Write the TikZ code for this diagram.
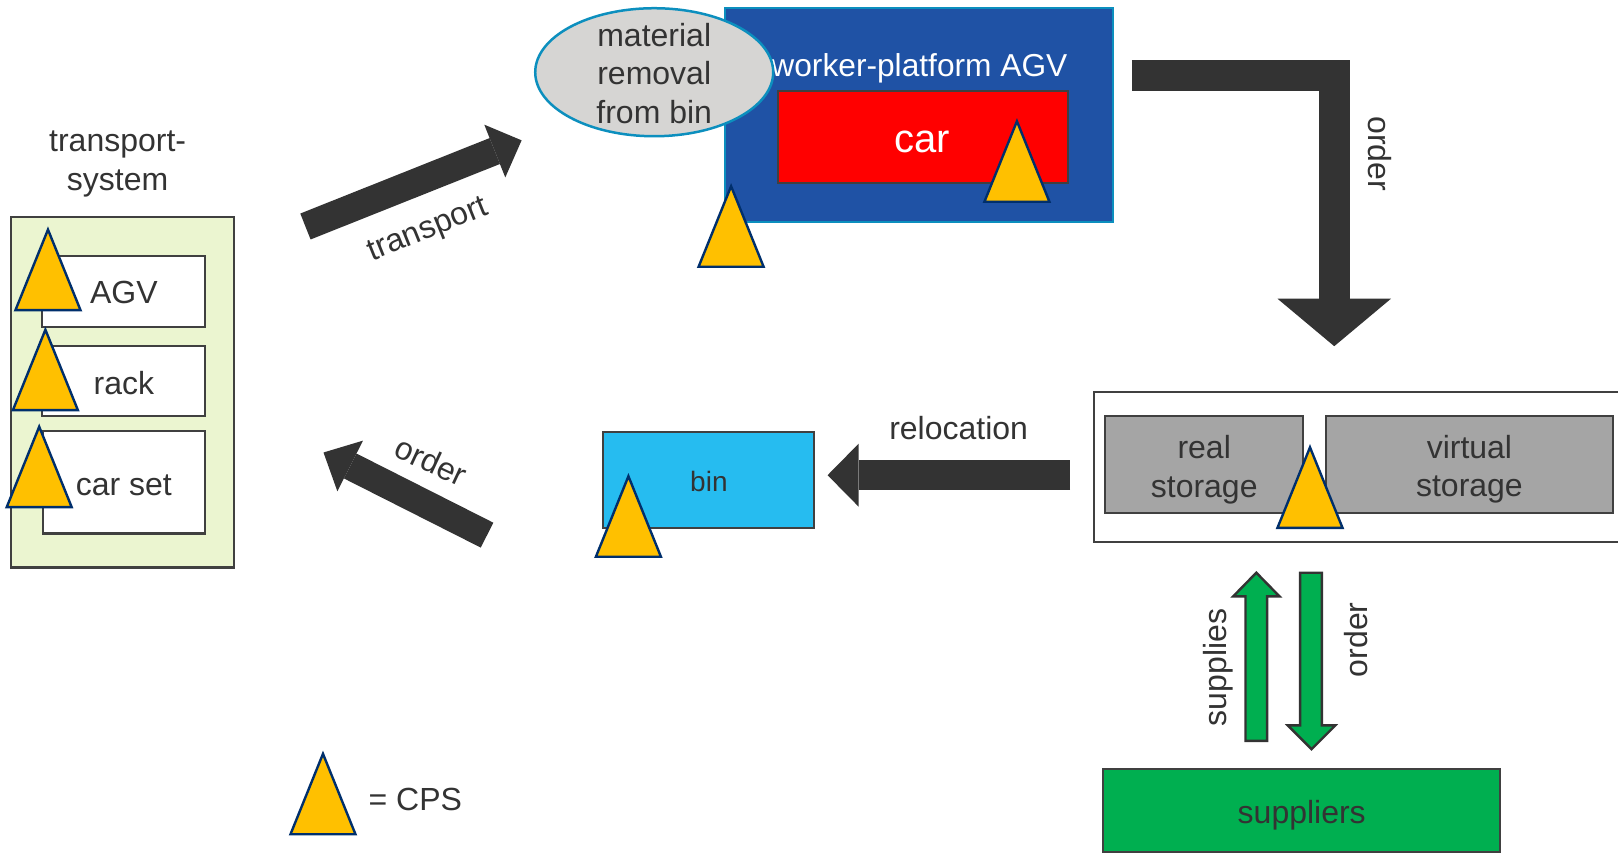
\documentclass[tikz,border=0pt]{standalone}
\usepackage{fontspec}
\setmainfont{Liberation Sans}
\usetikzlibrary{arrows.meta,shapes.geometric}
\definecolor{ink}{HTML}{333333}
\definecolor{edge}{HTML}{404040}
\definecolor{cpsfill}{HTML}{FFC000}
\definecolor{cpsedge}{HTML}{002F6C}
\definecolor{tsfill}{HTML}{EBF5D0}
\definecolor{agvblue}{HTML}{1F52A5}
\definecolor{cyanedge}{HTML}{0C8FBE}
\definecolor{ellfill}{HTML}{D6D5D3}
\definecolor{storegrey}{HTML}{A5A5A5}
\definecolor{binblue}{HTML}{26BCF0}
\definecolor{supgreen}{HTML}{00AF50}
\tikzset{
  txt/.style={text=ink,inner sep=0pt,align=center,font=\fontsize{32}{38.5}\selectfont},
  boxa/.style={draw=edge,line width=2.1pt,inner sep=0pt,anchor=north west},
  cpsshape/.style={draw=cpsedge,fill=cpsfill,line width=2.4pt,line join=miter},
  blockarrow/.style={draw=ink,line width=27.9pt,line cap=butt},
  greenarrow/.style={draw=ink,fill=supgreen,line width=2.4pt,line join=miter},
}
\newcommand{\boxat}[6]{% name, x1,y1,x2,y2, options
  \path[boxa,#6] (#2,#3) rectangle (#4,#5);
  \coordinate (#1) at ({(#2+#4)/2},{(#3+#5)/2});}
\newcommand{\cps}[2]{% base-centre x, apex y
  \draw[cpsshape] (#1,#2) -- ({#1+31.5},{#2+78}) -- ({#1-31.5},{#2+78}) -- cycle;}
\begin{document}
\begin{tikzpicture}[x=1.0319pt,y=-1.0319pt]
\useasboundingbox (0,0) rectangle (1568,825.7);
% transport system
\boxat{ts}{11}{210}{227}{550}{fill=tsfill}
\boxat{agv}{41}{248}{199}{317}{fill=white}
\boxat{rack}{41}{335}{199}{403}{fill=white}
\boxat{carset}{42}{418}{199}{517}{fill=white}
\node[txt] (tstitle) at (114,159) {transport-\\system};
\node[txt] (agvt) at (120,283) {AGV};
\node[txt] (rackt) at (120,371) {rack};
\node[txt] (carsett) at (120,470) {car set};
\cps{46.5}{222.5}\cps{44}{319.5}\cps{38}{413.5}
% worker platform
\boxat{wp}{703}{8}{1079}{215}{fill=agvblue,draw=cyanedge}
\boxat{car}{754}{88}{1035}{177}{fill=red}
\node[txt,text=white,font=\fontsize{31.7}{38}\selectfont] (wpt) at (891,66) {worker-platform AGV};
\node[txt,text=white,font=\fontsize{40}{48}\selectfont] (cart) at (894,138) {car};
\node[ellipse,draw=cyanedge,fill=ellfill,line width=2.5pt,minimum width=238pt,minimum height=128pt,inner sep=0pt] (ell) at (634,70) {};
\node[txt] (ellt) at (634,71) {material\\removal\\from bin};
\cps{985.5}{117.5}\cps{708.5}{180.5}
% bin
\boxat{bin}{584}{419}{789}{512}{fill=binblue}
\node[txt,font=\fontsize{28}{34}\selectfont] (bint) at (687,467) {bin};
\cps{609}{461.5}
% storage
\draw[draw=edge,line width=2.1pt] (1570,380) -- (1060,380) -- (1060,525) -- (1570,525);
\boxat{real}{1071}{403}{1263}{497}{fill=storegrey}
\boxat{virt}{1285}{403}{1563}{497}{fill=storegrey}
\node[txt] (realt) at (1167,455) {real\\storage};
\node[txt] (virtt) at (1424,454.5) {virtual\\storage};
\cps{1269.5}{433.5}
% suppliers
\boxat{sup}{1069}{745}{1454}{826}{fill=supgreen}
\node[txt] (supt) at (1261.5,790) {suppliers};
\draw[greenarrow] (1217.5,555) -- (1240,578) -- (1228,578) -- (1228,718) -- (1207,718) -- (1207,578) -- (1195,578) -- cycle;
\draw[greenarrow] (1271,726) -- (1294,703) -- (1281,703) -- (1281,555) -- (1260,555) -- (1260,703) -- (1248,703) -- cycle;
\node[txt,rotate=90] (supl) at (1180.5,647) {supplies};
\node[txt,rotate=90] (ordl3) at (1314,620) {order};
% block connectors
\coordinate (a1) at (296,219.5); \coordinate (a2) at (505.5,136);
\draw[blockarrow,-{Triangle[length=28.9pt,width=56.8pt,line width=0pt]}] (a1) -- (a2);
\node[txt,rotate=22] (transl) at (415,224) {transport};
\coordinate (b1) at (472,518.6); \coordinate (b2) at (313.5,438.5);
\draw[blockarrow,-{Triangle[length=29.9pt,width=56.8pt,line width=0pt]}] (b1) -- (b2);
\node[txt,rotate=-25] (ordl1) at (418,447) {order};
\coordinate (c1) at (1037,460.5); \coordinate (c2) at (802,460.5);
\draw[blockarrow,line width=29.9pt,-{Triangle[length=31pt,width=62.9pt,line width=0pt]}] (c1) -- (c2);
\node[txt] (rell) at (929,415) {relocation};
\coordinate (d1) at (1097,73); \coordinate (d2) at (1293,73); \coordinate (d3) at (1293,335.5);
\draw[blockarrow,line width=31pt,line join=miter,-{Triangle[length=47.5pt,width=113.5pt,line width=0pt]}] (d1) -- (d2) -- (d3);
\node[txt,rotate=-90] (ordl2) at (1337.5,149) {order};
% legend
\cps{313}{730.5}
\node[txt] (leg) at (402.5,775) {= CPS};
\end{tikzpicture}
\end{document}
